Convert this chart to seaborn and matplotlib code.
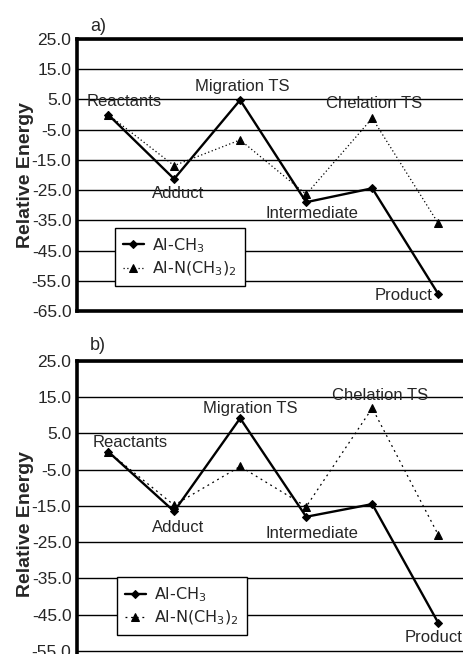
import matplotlib
matplotlib.use("Agg")
import pandas as pd
import matplotlib.pyplot as plt
import seaborn as sns

# Reaction steps along the path
steps = ["Reactants", "Adduct", "Migration TS", "Intermediate", "Chelation TS", "Product"]

# Panel a) relative energies
a_ch3 = [0.0, -21.3, 4.8, -29.0, -24.4, -59.4]
a_nme2 = [0.0, -16.9, -8.4, -26.4, -1.2, -36.0]

# Panel b) relative energies
b_ch3 = [0.0, -16.5, 9.2, -18.0, -14.5, -47.3]
b_nme2 = [0.0, -14.8, -4.1, -15.2, 12.0, -23.0]

series_names = ["Al-CH$_3$", "Al-N(CH$_3$)$_2$"]
y_ticks = [25.0, 15.0, 5.0, -5.0, -15.0, -25.0, -35.0, -45.0, -55.0, -65.0]

# where the step names sit (step position, energy)
a_label_pos = [(0.24, 4.2), (1.06, -26.0), (2.03, 9.4), (3.09, -32.6), (4.02, 3.5), (4.47, -60.0)]
b_label_pos = [(0.34, 2.4), (1.06, -21.0), (2.15, 12.0), (3.09, -22.7), (4.12, 15.4), (4.93, -51.4)]

sns.set_theme(style="white")
plt.rcParams["font.family"] = ["Liberation Sans", "DejaVu Sans"]
plt.rcParams["mathtext.fontset"] = "dejavusans"


def draw_panel(ax, ch3, nme2, label_pos, tag, tag_y, nme2_dash, legend_anchor):
    df = pd.DataFrame({
        "step": list(range(len(steps))) * 2,
        "energy": ch3 + nme2,
        "series": [series_names[0]] * len(steps) + [series_names[1]] * len(steps),
    })
    sns.lineplot(data=df[df.series == series_names[0]], x="step", y="energy",
                 color="black", lw=1.7, marker="D", markersize=4, mec="black",
                 label=series_names[0], ax=ax, zorder=4)
    sns.lineplot(data=df[df.series == series_names[1]], x="step", y="energy",
                 color="black", lw=0.9, linestyle=nme2_dash, marker="^",
                 markersize=5.5, mec="black", label=series_names[1], ax=ax, zorder=3)

    for name, (x, y) in zip(steps, label_pos):
        ax.text(x, y, name, ha="center", va="center", fontsize=12, zorder=5)

    ax.set_xlim(-0.47, 5.6)
    ax.set_ylim(-65, 25)
    ax.set_yticks(y_ticks)
    ax.set_yticklabels([f"{t:.1f}" for t in y_ticks], fontsize=12.5)
    ax.set_xticks([])
    ax.set_xlabel("")
    ax.set_ylabel("Relative Energy", fontsize=14, fontweight="bold", labelpad=-2)
    ax.tick_params(axis="y", length=0, pad=4)
    ax.yaxis.grid(True, color="black", lw=1.0)
    ax.set_axisbelow(True)
    for side in ["left", "top", "bottom"]:
        ax.spines[side].set_linewidth(2.6)
        ax.spines[side].set_color("black")
    ax.spines["right"].set_visible(False)

    leg = ax.legend(loc="upper left", bbox_to_anchor=legend_anchor, borderaxespad=0,
                    frameon=True, fancybox=False, edgecolor="black", framealpha=1,
                    prop={"family": "DejaVu Sans", "size": 11.5}, handlelength=1.3,
                    handletextpad=0.5, labelspacing=0.3, borderpad=0.5)
    leg.get_frame().set_linewidth(1.0)
    ax.text(0.032, tag_y, tag, transform=ax.transAxes, fontsize=13,
            ha="left", va="baseline")


fig = plt.figure(figsize=(4.64, 6.54), dpi=100)
ax_a = fig.add_axes([0.166, 0.5245, 0.864, 0.4159])
ax_b = fig.add_axes([0.166, -0.0505, 0.864, 0.4985])

draw_panel(ax_a, a_ch3, a_nme2, a_label_pos, "a)", 1.03, (0, (1, 2)), (0.095, 0.305))
draw_panel(ax_b, b_ch3, b_nme2, b_label_pos, "b)", 1.034, (0, (1.5, 3)), (0.10, 0.337))

fig.savefig("out.png", dpi=100)
plt.close(fig)
